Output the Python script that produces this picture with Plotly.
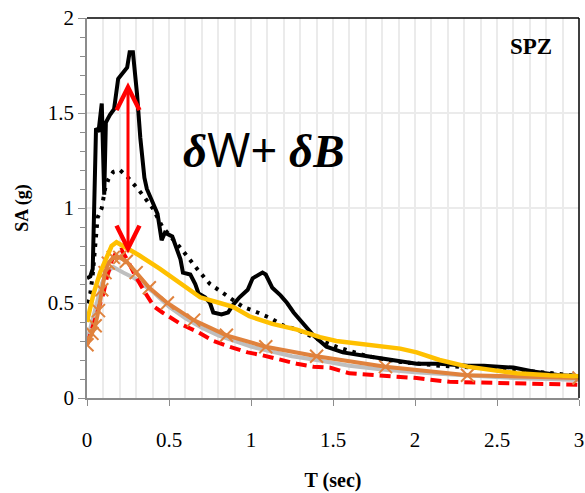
import plotly.graph_objects as go

# Recorded spectrum (solid black)
rec_T = [0, 0.02, 0.035, 0.045, 0.055, 0.07, 0.09, 0.105, 0.115, 0.14, 0.165, 0.19, 0.22, 0.245, 0.26, 0.28,
         0.305, 0.325, 0.35, 0.365, 0.4, 0.43, 0.455, 0.475, 0.52, 0.55, 0.57, 0.585, 0.63, 0.66, 0.68, 0.72,
         0.75, 0.77, 0.82, 0.86, 0.89, 0.93, 0.98, 1.01, 1.07, 1.09, 1.13, 1.18, 1.22, 1.26, 1.32, 1.38, 1.46,
         1.56, 1.71, 1.85, 2.01, 2.15, 2.32, 2.42, 2.6, 2.72, 2.88, 3.0]
rec_SA = [0.63, 0.64, 0.68, 1.0, 1.42, 1.40, 1.55, 1.07, 1.45, 1.49, 1.52, 1.68, 1.71, 1.74, 1.82, 1.82,
          1.6, 1.37, 1.16, 1.1, 1.03, 0.97, 0.83, 0.87, 0.85, 0.78, 0.73, 0.66, 0.65, 0.6, 0.55, 0.53,
          0.5, 0.45, 0.44, 0.45, 0.49, 0.53, 0.57, 0.63, 0.66, 0.65, 0.58, 0.54, 0.5, 0.45, 0.39, 0.33, 0.27,
          0.24, 0.22, 0.2, 0.18, 0.18, 0.17, 0.17, 0.16, 0.14, 0.12, 0.115]

# Dotted black
dot_T = [0, 0.02, 0.035, 0.05, 0.065, 0.09, 0.11, 0.13, 0.16, 0.2, 0.24, 0.28, 0.32, 0.4, 0.46, 0.57, 0.63,
         0.68, 0.75, 0.8, 0.87, 0.95, 1.04, 1.12, 1.2, 1.28, 1.38, 1.52, 1.71, 1.91, 2.15, 2.38, 2.6, 2.84, 3.0]
dot_SA = [0.5, 0.55, 0.65, 0.8, 0.95, 1.0, 1.1, 1.15, 1.19, 1.2, 1.17, 1.13, 1.09, 1.0, 0.9, 0.79, 0.72,
          0.67, 0.6, 0.57, 0.53, 0.48, 0.45, 0.42, 0.38, 0.36, 0.32, 0.27, 0.22, 0.19, 0.17, 0.16, 0.15, 0.13, 0.115]

# Yellow
yel_T = [0, 0.04, 0.08, 0.12, 0.15, 0.18, 0.26, 0.32, 0.445, 0.57, 0.69, 0.81, 0.89, 0.99, 1.13, 1.28, 1.42,
         1.52, 1.71, 1.91, 2.01, 2.15, 2.32, 2.44, 2.62, 2.82, 3.0]
yel_SA = [0.4, 0.55, 0.66, 0.74, 0.8, 0.82, 0.78, 0.75, 0.68, 0.6, 0.53, 0.5, 0.48, 0.43, 0.39, 0.36, 0.32,
          0.3, 0.28, 0.26, 0.24, 0.2, 0.165, 0.15, 0.13, 0.12, 0.115]

# Orange with x markers
org_T = [0, 0.03, 0.05, 0.07, 0.09, 0.11, 0.13, 0.16, 0.2, 0.24, 0.30, 0.38, 0.49, 0.65, 0.85, 1.09, 1.4,
         1.82, 2.32, 3.0]
org_SA = [0.28, 0.34, 0.38, 0.46, 0.57, 0.66, 0.71, 0.74, 0.74, 0.72, 0.66, 0.58, 0.5, 0.41, 0.33, 0.27, 0.22,
          0.165, 0.12, 0.105]

# Gray
gry_T = [0, 0.03, 0.06, 0.09, 0.12, 0.16, 0.22, 0.29, 0.4, 0.5, 0.6, 0.7, 0.8, 0.9, 1.0, 1.1, 1.25, 1.4,
         1.6, 1.8, 2.0, 2.3, 2.6, 3.0]
gry_SA = [0.3, 0.4, 0.52, 0.6, 0.66, 0.69, 0.66, 0.63, 0.56, 0.48, 0.42, 0.37, 0.33, 0.3, 0.27, 0.25, 0.22,
          0.2, 0.17, 0.15, 0.135, 0.12, 0.105, 0.095]

# Red dashed
red_T = [0, 0.03, 0.07, 0.1, 0.12, 0.15, 0.18, 0.21, 0.25, 0.29, 0.35, 0.41, 0.46, 0.57, 0.67, 0.77, 0.87,
         0.98, 1.07, 1.18, 1.28, 1.38, 1.48, 1.6, 1.8, 2.01, 2.21, 2.42, 2.62, 2.82, 3.0]
red_SA = [0.28, 0.36, 0.46, 0.55, 0.63, 0.72, 0.77, 0.78, 0.72, 0.65, 0.56, 0.48, 0.45, 0.39, 0.35, 0.3, 0.27,
          0.24, 0.225, 0.2, 0.18, 0.165, 0.16, 0.13, 0.12, 0.105, 0.085, 0.08, 0.08, 0.075, 0.07]

# Arrow (period and SA span)
arrow_T = 0.25
arrow_top = 1.67
arrow_bottom = 0.76

x_ticks = [0, 0.5, 1, 1.5, 2, 2.5, 3]
x_ticklabels = ["0", "0.5", "1", "1.5", "2", "2.5", "3"]
y_ticks = [0, 0.5, 1, 1.5, 2]
y_ticklabels = ["0", "0.5", "1", "1.5", "2"]

BLACK = "#000000"
YELLOW = "#FFC000"
ORANGE = "#E0823D"
GRAY = "#BFBFBF"
RED = "#FF0000"

fig = go.Figure()
fig.add_trace(go.Scatter(x=gry_T, y=gry_SA, mode="lines", line=dict(color=GRAY, width=4), showlegend=False))
fig.add_trace(go.Scatter(x=red_T, y=red_SA, mode="lines", line=dict(color=RED, width=4, dash="11px,6px"),
                         showlegend=False))
fig.add_trace(go.Scatter(x=org_T, y=org_SA, mode="lines+markers", line=dict(color=ORANGE, width=4),
                         marker=dict(symbol="x-thin-open", size=13, color=ORANGE, line=dict(color=ORANGE, width=2)),
                         showlegend=False))
fig.add_trace(go.Scatter(x=rec_T, y=rec_SA, mode="lines", line=dict(color=BLACK, width=4), showlegend=False))
fig.add_trace(go.Scatter(x=dot_T, y=dot_SA, mode="lines", line=dict(color=BLACK, width=4, dash="3.5px,6px"),
                         showlegend=False))
fig.add_trace(go.Scatter(x=yel_T, y=yel_SA, mode="lines", line=dict(color=YELLOW, width=4.5), showlegend=False))

# double-headed red arrow
fig.add_annotation(x=arrow_T, y=arrow_bottom, ax=arrow_T, ay=arrow_top, xref="x", yref="y", axref="x", ayref="y",
                   text="", showarrow=True, arrowhead=5, startarrowhead=5, arrowside="end+start",
                   arrowwidth=3, arrowsize=1.5, startarrowsize=1.5, arrowcolor=RED)

fig.add_annotation(x=1.08, y=1.31, xref="x", yref="y", showarrow=False,
                   text="<b><i>δ</i></b><span style='font-family:Open Sans'>W+</span> <b><i>δB</i></b>",
                   font=dict(family="Liberation Serif", size=47, color="black"))
fig.add_annotation(x=2.71, y=1.85, xref="x", yref="y", showarrow=False, text="<b>SPZ</b>",
                   font=dict(family="Liberation Serif", size=23, color="black"))

# top and right black border
fig.add_shape(type="line", xref="paper", yref="paper", x0=0, x1=1, y0=1, y1=1, line=dict(color="black", width=1.5))
fig.add_shape(type="line", xref="paper", yref="paper", x0=1, x1=1, y0=0, y1=1, line=dict(color="black", width=1.5))

fig.update_layout(
    width=585, height=493,
    margin=dict(l=87, r=6, t=18, b=95, autoexpand=False),
    plot_bgcolor="white", paper_bgcolor="white",
    font=dict(family="Liberation Serif", size=21, color="black"),
    xaxis=dict(range=[0, 3], tickvals=x_ticks, ticktext=x_ticklabels, showgrid=True, gridcolor="#EBEBEB",
               gridwidth=1.5, minor=dict(dtick=0.1, showgrid=True, gridcolor="#EBEBEB", gridwidth=1.5),
               showline=True, linecolor="#8C8C8C", linewidth=1.5, ticks="outside", ticklen=6,
               tickcolor="#8C8C8C", ticklabelstandoff=16, zeroline=False, automargin=False,
               title=dict(text="<b>T (sec)</b>", font=dict(size=20), standoff=22)),
    yaxis=dict(range=[0, 2], tickvals=y_ticks, ticktext=y_ticklabels, showgrid=True, gridcolor="#EBEBEB",
               gridwidth=1.5, minor=dict(dtick=0.1, ticks="outside", ticklen=5, tickcolor="#8C8C8C", showgrid=False),
               showline=True, linecolor="#8C8C8C", linewidth=1.5, ticks="outside", ticklen=7,
               tickcolor="#8C8C8C", zeroline=False, automargin=False,
               title=dict(text="<b>SA (g)</b>", font=dict(size=18), standoff=14)),
)

fig.write_html("out.html")
